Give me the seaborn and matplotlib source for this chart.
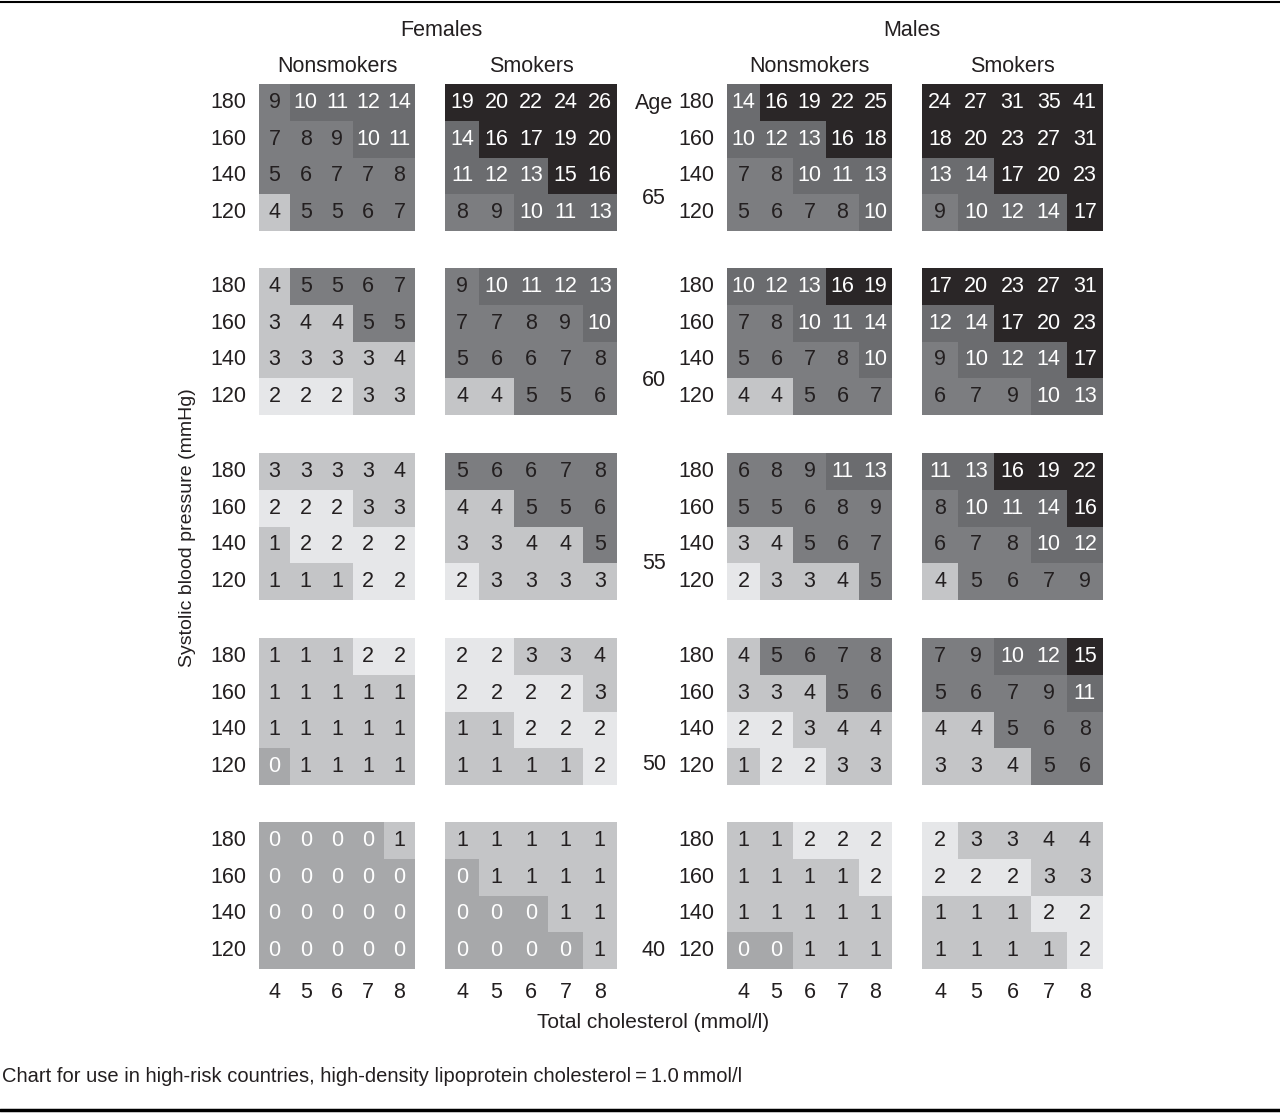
import numpy as np
import pandas as pd
import matplotlib
matplotlib.use("Agg")
import matplotlib.pyplot as plt
from matplotlib.colors import ListedColormap, BoundaryNorm
from matplotlib.lines import Line2D
import seaborn as sns

sns.set_style("white")
plt.rcParams["font.family"] = ["Liberation Sans", "DejaVu Sans"]

bp_levels = [180, 160, 140, 120]
chol_levels = [4, 5, 6, 7, 8]
ages = [65, 60, 55, 50, 40]

# ten-year risk (%) per age band, rows = systolic BP 180..120, cols = cholesterol 4..8
female_nonsmokers = [
    [[9, 10, 11, 12, 14], [7, 8, 9, 10, 11], [5, 6, 7, 7, 8], [4, 5, 5, 6, 7]],
    [[4, 5, 5, 6, 7], [3, 4, 4, 5, 5], [3, 3, 3, 3, 4], [2, 2, 2, 3, 3]],
    [[3, 3, 3, 3, 4], [2, 2, 2, 3, 3], [1, 2, 2, 2, 2], [1, 1, 1, 2, 2]],
    [[1, 1, 1, 2, 2], [1, 1, 1, 1, 1], [1, 1, 1, 1, 1], [0, 1, 1, 1, 1]],
    [[0, 0, 0, 0, 1], [0, 0, 0, 0, 0], [0, 0, 0, 0, 0], [0, 0, 0, 0, 0]],
]
female_smokers = [
    [[19, 20, 22, 24, 26], [14, 16, 17, 19, 20], [11, 12, 13, 15, 16], [8, 9, 10, 11, 13]],
    [[9, 10, 11, 12, 13], [7, 7, 8, 9, 10], [5, 6, 6, 7, 8], [4, 4, 5, 5, 6]],
    [[5, 6, 6, 7, 8], [4, 4, 5, 5, 6], [3, 3, 4, 4, 5], [2, 3, 3, 3, 3]],
    [[2, 2, 3, 3, 4], [2, 2, 2, 2, 3], [1, 1, 2, 2, 2], [1, 1, 1, 1, 2]],
    [[1, 1, 1, 1, 1], [0, 1, 1, 1, 1], [0, 0, 0, 1, 1], [0, 0, 0, 0, 1]],
]
male_nonsmokers = [
    [[14, 16, 19, 22, 25], [10, 12, 13, 16, 18], [7, 8, 10, 11, 13], [5, 6, 7, 8, 10]],
    [[10, 12, 13, 16, 19], [7, 8, 10, 11, 14], [5, 6, 7, 8, 10], [4, 4, 5, 6, 7]],
    [[6, 8, 9, 11, 13], [5, 5, 6, 8, 9], [3, 4, 5, 6, 7], [2, 3, 3, 4, 5]],
    [[4, 5, 6, 7, 8], [3, 3, 4, 5, 6], [2, 2, 3, 4, 4], [1, 2, 2, 3, 3]],
    [[1, 1, 2, 2, 2], [1, 1, 1, 1, 2], [1, 1, 1, 1, 1], [0, 0, 1, 1, 1]],
]
male_smokers = [
    [[24, 27, 31, 35, 41], [18, 20, 23, 27, 31], [13, 14, 17, 20, 23], [9, 10, 12, 14, 17]],
    [[17, 20, 23, 27, 31], [12, 14, 17, 20, 23], [9, 10, 12, 14, 17], [6, 7, 9, 10, 13]],
    [[11, 13, 16, 19, 22], [8, 10, 11, 14, 16], [6, 7, 8, 10, 12], [4, 5, 6, 7, 9]],
    [[7, 9, 10, 12, 15], [5, 6, 7, 9, 11], [4, 4, 5, 6, 8], [3, 3, 4, 5, 6]],
    [[2, 3, 3, 4, 4], [2, 2, 2, 3, 3], [1, 1, 1, 2, 2], [1, 1, 1, 1, 2]],
]
groups = [female_nonsmokers, female_smokers, male_nonsmokers, male_smokers]

# risk bands: 0, 1, 2, 3-4, 5-9, 10-14, >=15
band_edges = [-0.5, 0.5, 1.5, 2.5, 4.5, 9.5, 14.5, 100]
band_colors = ["#a7a8aa", "#c4c5c7", "#e6e7e9", "#c4c5c7", "#7c7d80", "#6b6c6f", "#2a2627"]
cmap = ListedColormap(band_colors)
norm = BoundaryNorm(band_edges, cmap.N)

DARK = "#231f20"
W, H = 1280, 1114
fig = plt.figure(figsize=(W / 100, H / 100), dpi=100)

def px_axes(x0, y0, x1, y1):
    return fig.add_axes([x0 / W, 1 - y1 / H, (x1 - x0) / W, (y1 - y0) / H])

col_x = [(259, 415), (445, 617), (727, 892), (922, 1103)]
row_top = [84, 268, 453, 638, 822]
panel_h = 147

for r, age in enumerate(ages):
    for c, grp in enumerate(groups):
        x0, x1 = col_x[c]
        y0 = row_top[r]
        ax = px_axes(x0, y0, x1, y0 + panel_h)
        df = pd.DataFrame(grp[r], index=bp_levels, columns=chol_levels)
        sns.heatmap(df, ax=ax, cmap=cmap, norm=norm, cbar=False,
                    annot=True, fmt="d", annot_kws={"size": 15.5})
        for t in ax.texts:
            v = int(t.get_text())
            t.set_color("white" if (v == 0 or v >= 10) else DARK)
        ax.tick_params(length=0, labelsize=15.5, labelcolor=DARK)
        ax.tick_params(axis="y", pad=9)
        ax.tick_params(axis="x", pad=9)
        if c in (0, 2):
            ax.set_yticklabels(bp_levels, rotation=0)
        else:
            ax.set_yticks([])
        if r == len(ages) - 1:
            ax.set_xticklabels(chol_levels, rotation=0)
        else:
            ax.set_xticks([])
        ax.set_xlabel("")
        ax.set_ylabel("")

def ftext(x, y, s, **kw):
    kw.setdefault("fontsize", 15.5)
    kw.setdefault("color", DARK)
    fig.text(x / W, 1 - y / H, s, ha=kw.pop("ha", "center"), va=kw.pop("va", "center"), **kw)

ftext(441, 31, "Females")
ftext(912, 31, "Males")
for (x0, x1), name in zip(col_x, ["Nonsmokers", "Smokers", "Nonsmokers", "Smokers"]):
    ftext((x0 + x1) / 2, 67, name)

ftext(654, 103, "Age")
age_y = [198, 381, 564, 765, 951]
for age, y in zip(ages, age_y):
    ftext(654, y, str(age))

ftext(188, 528, "Systolic blood pressure (mmHg)", rotation=90, fontsize=14)
ftext(653, 1023, "Total cholesterol (mmol/l)", fontsize=15)
ftext(2, 1076, "Chart for use in high-risk countries, high-density lipoprotein cholesterol\u2009=\u20091.0\u2009mmol/l",
      ha="left", fontsize=14.5)

fig.add_artist(Line2D([0, 1], [1 - 1.5 / H, 1 - 1.5 / H], color="black", lw=1.5))
fig.add_artist(Line2D([0, 1], [1 - 1110 / H, 1 - 1110 / H], color="black", lw=2.5))

fig.savefig("out.png", dpi=100)
